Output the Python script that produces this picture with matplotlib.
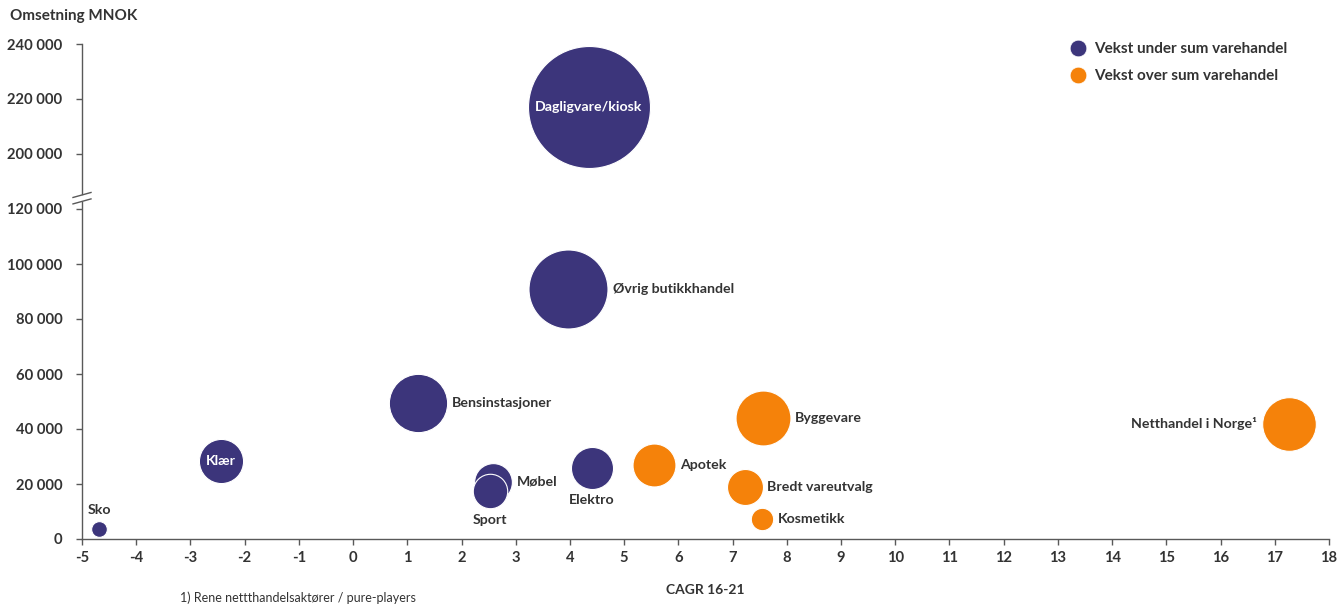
import numpy as np
import matplotlib
matplotlib.use("Agg")
import matplotlib.pyplot as plt
from matplotlib.lines import Line2D

plt.rcParams['font.family'] = ['Lato', 'DejaVu Sans']
plt.rcParams['axes.unicode_minus'] = False

# Retail segments: five-year growth (CAGR 16-21, %) and turnover (MNOK)
segments = ["Sko", "Klær", "Bensinstasjoner", "Møbel", "Sport", "Elektro",
            "Øvrig butikkhandel", "Dagligvare/kiosk", "Apotek", "Byggevare",
            "Bredt vareutvalg", "Kosmetikk", "Netthandel i Norge¹"]
cagr = [-4.68, -2.44, 1.2, 2.58, 2.53, 4.4, 3.97, 4.35, 5.55, 7.56, 7.22, 7.54, 17.26]
turnover = [3600, 28400, 49500, 20800, 17300, 25800, 91000, 217000, 26900,
            44000, 18900, 7300, 42000]
above_total = [False, False, False, False, False, False, False, False, True,
               True, True, True, True]

legend_labels = ["Vekst under sum varehandel", "Vekst over sum varehandel"]
y_ticks = [0, 20000, 40000, 60000, 80000, 100000, 120000, 200000, 220000, 240000]
x_ticks = list(range(-5, 19))

PURPLE = "#3C357B"
ORANGE = "#F5820A"
TEXT = "#333333"
AXIS = "#595959"

# Label placement around each bubble
placement = {"Sko": "above", "Klær": "inside", "Bensinstasjoner": "right",
             "Møbel": "right", "Sport": "below", "Elektro": "below",
             "Øvrig butikkhandel": "right", "Dagligvare/kiosk": "inside",
             "Apotek": "right", "Byggevare": "right", "Bredt vareutvalg": "right",
             "Kosmetikk": "right", "Netthandel i Norge¹": "left"}


# Broken y axis: compress the empty 120 000 - 200 000 range
def fwd(y):
    y = np.asarray(y, dtype=float)
    return np.where(y <= 120000, y,
                    np.where(y >= 200000, y - 60000, 120000 + (y - 120000) * 0.25))


def inv(t):
    t = np.asarray(t, dtype=float)
    return np.where(t <= 120000, t,
                    np.where(t >= 140000, t + 60000, 120000 + (t - 120000) * 4.0))


fig = plt.figure(figsize=(13.41, 6.08), dpi=100)
ax = fig.add_axes([82 / 1341, 1 - 539 / 608, 1247 / 1341, 495 / 608])
ax.set_yscale('function', functions=(fwd, inv))
ax.set_xlim(-5, 18)
ax.set_ylim(0, 240000)

size_per_mnok = 7716 / 217000
sizes = [v * size_per_mnok for v in turnover]
colors = [ORANGE if a else PURPLE for a in above_total]

for name, x, y, s, c in zip(segments, cagr, turnover, sizes, colors):
    ax.scatter([x], [y], s=s, color=c, edgecolors="white", linewidths=0.8,
               zorder=3, clip_on=False)
    r = np.sqrt(s) / 2
    gap = 3.5
    pos = placement[name]
    kw = dict(fontsize=10.2, fontweight="bold", color=TEXT, zorder=4,
              textcoords="offset points")
    if pos == "inside":
        ax.annotate(name, (x, y), xytext=(0, 0), ha="center", va="center",
                    **{**kw, "color": "white"})
    elif pos == "right":
        ax.annotate(name, (x, y), xytext=(r + gap, 0), ha="left", va="center", **kw)
    elif pos == "left":
        ax.annotate(name, (x, y), xytext=(-r - gap, 0), ha="right", va="center", **kw)
    elif pos == "above":
        ax.annotate(name, (x, y), xytext=(0, r + gap), ha="center", va="bottom", **kw)
    elif pos == "below":
        ax.annotate(name, (x, y), xytext=(0, -r - gap), ha="center", va="top", **kw)

# Axes styling
for side in ("top", "right", "left"):
    ax.spines[side].set_visible(False)
ax.spines["bottom"].set_color(AXIS)
ax.spines["bottom"].set_linewidth(1.0)

ax.set_xticks(x_ticks)
ax.set_yticks(y_ticks)
ax.set_yticklabels([f"{v:,}".replace(",", " ") for v in y_ticks])
ax.tick_params(axis="both", colors=AXIS, labelcolor=TEXT, labelsize=10.6,
               direction="out", length=4, width=1)
ax.tick_params(axis="x", pad=5)
ax.tick_params(axis="y", pad=10)
for lbl in ax.get_xticklabels() + ax.get_yticklabels():
    lbl.set_fontweight("bold")

# Left axis line drawn in two pieces with break marks
ax_h = 495.0
ax_w = 1247.0
lo_break = 0.682
hi_break = 0.695
ax.plot([0, 0], [0, lo_break - 1 / ax_h], transform=ax.transAxes, color=AXIS,
        lw=1, clip_on=False, zorder=2)
ax.plot([0, 0], [hi_break + 1 / ax_h, 1], transform=ax.transAxes, color=AXIS,
        lw=1, clip_on=False, zorder=2)
for yb in (lo_break, hi_break):
    ax.plot([-9 / ax_w, 9 / ax_w], [yb - 2.5 / ax_h, yb + 2.5 / ax_h],
            transform=ax.transAxes, color=AXIS, lw=1, clip_on=False, zorder=2)

# Titles and footnote
fig.text(10 / 1341, 1 - 16 / 608, "Omsetning MNOK", fontsize=11, fontweight="bold",
         color=TEXT, ha="left", va="center")
fig.text(705 / 1341, 1 - 590 / 608, "CAGR 16-21", fontsize=10, fontweight="bold",
         color=TEXT, ha="center", va="center")
fig.text(180 / 1341, 1 - 598 / 608, "1) Rene nettthandelsaktører / pure-players",
         fontsize=9, color=TEXT, ha="left", va="center")

# Legend
handles = [Line2D([], [], marker="o", ls="", markersize=12, color=PURPLE,
                  markeredgecolor="white", markeredgewidth=0.5),
           Line2D([], [], marker="o", ls="", markersize=12, color=ORANGE,
                  markeredgecolor="white", markeredgewidth=0.5)]
leg = fig.legend(handles, legend_labels, loc="upper left",
                 bbox_to_anchor=(1070 / 1341, 1 - 42 / 608), frameon=False,
                 borderpad=0, borderaxespad=0, handlelength=1.0, handletextpad=0.6,
                 labelspacing=0.85, prop={"size": 11, "weight": "bold"})
for t in leg.get_texts():
    t.set_color(TEXT)

fig.savefig("out.png", dpi=100)
